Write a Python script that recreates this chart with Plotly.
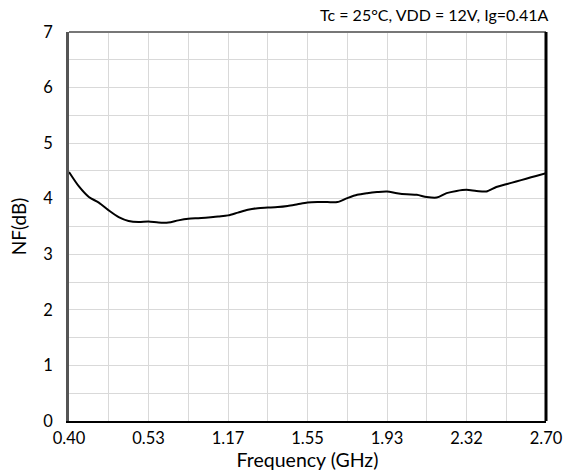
import plotly.graph_objects as go

# Noise figure samples, evenly spaced along the (category-style) frequency axis
nf_db = [4.48, 4.22, 4.03, 3.93, 3.79, 3.67, 3.60, 3.58, 3.59, 3.57, 3.57, 3.61,
         3.64, 3.65, 3.66, 3.68, 3.70, 3.75, 3.80, 3.83, 3.84, 3.85, 3.87, 3.90,
         3.93, 3.94, 3.94, 3.94, 4.01, 4.07, 4.10, 4.12, 4.13, 4.10, 4.08, 4.07,
         4.03, 4.02, 4.10, 4.14, 4.16, 4.14, 4.13, 4.21, 4.26, 4.31, 4.36, 4.41,
         4.46]
sample_index = list(range(len(nf_db)))
freq_tick_labels = ["0.40", "0.53", "1.17", "1.55", "1.93", "2.32", "2.70"]
freq_tick_index = [0, 8, 16, 24, 32, 40, 48]
y_ticks = [0, 1, 2, 3, 4, 5, 6, 7]

FONT = "Lato"
grid = "#d9d9d9"

fig = go.Figure()
fig.add_trace(go.Scatter(
    x=sample_index, y=nf_db, mode="lines",
    line=dict(color="black", width=2, shape="spline", smoothing=0.8),
    hoverinfo="skip", showlegend=False,
))

fig.update_layout(
    width=567, height=474,
    margin=dict(l=69, r=21, t=32, b=53),
    paper_bgcolor="white", plot_bgcolor="white",
    font=dict(family=FONT, size=16, color="black"),
    showlegend=False,
    xaxis=dict(
        range=[0, 48], tickmode="array", tickvals=freq_tick_index,
        ticktext=freq_tick_labels, showgrid=True, gridcolor=grid, gridwidth=1,
        minor=dict(dtick=4, tick0=0, showgrid=True, gridcolor=grid, gridwidth=1),
        showline=True, linecolor="black", linewidth=2, zeroline=False,
        ticks="", ticklen=0, ticklabelstandoff=1, automargin=False,
        tickfont=dict(size=16.5),
        title=dict(text="Frequency (GHz)", font=dict(size=19.5), standoff=0),
    ),
    yaxis=dict(
        range=[0, 7], tickmode="array", tickvals=y_ticks,
        showgrid=True, gridcolor=grid, gridwidth=1,
        minor=dict(dtick=0.5, tick0=0, showgrid=True, gridcolor=grid, gridwidth=1),
        showline=True, linecolor="#555555", linewidth=2.5, zeroline=False,
        ticks="", ticklen=0, ticklabelstandoff=10, automargin=False,
        tickfont=dict(size=16.5),
        title=dict(text="NF(dB)", font=dict(size=19), standoff=12),
    ),
    annotations=[dict(
        text="Tc = 25°C, VDD = 12V, Ig=0.41A", xref="paper", yref="paper",
        x=1, y=1, xanchor="right", yanchor="bottom", xshift=5, yshift=6,
        showarrow=False, font=dict(size=16, family=FONT),
    )],
    shapes=[
        dict(type="line", xref="paper", yref="paper", x0=0, x1=1, y0=1, y1=1,
             line=dict(color="#777777", width=2)),
        dict(type="line", xref="paper", yref="paper", x0=1, x1=1, y0=0, y1=1,
             line=dict(color="black", width=3)),
    ],
)

fig.write_html("out.html", config={"displayModeBar": False},
               post_script="document.body.style.margin='0';")
